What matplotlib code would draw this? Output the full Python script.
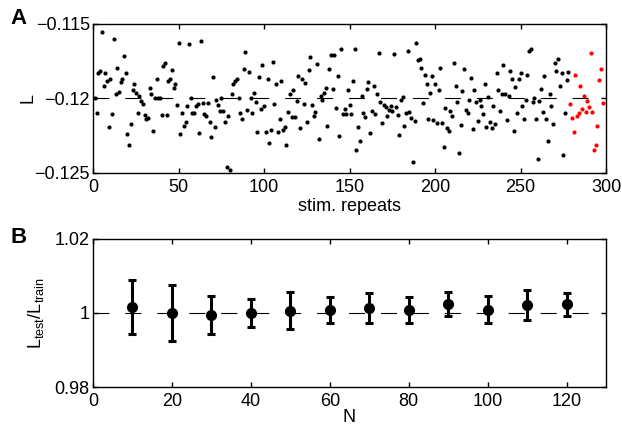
import matplotlib
matplotlib.use('Agg')
import matplotlib.pyplot as plt

plt.rcParams['font.family'] = ['Liberation Sans', 'DejaVu Sans']
plt.rcParams['mathtext.fontset'] = 'custom'
plt.rcParams['mathtext.rm'] = 'Liberation Sans'
plt.rcParams['lines.scale_dashes'] = False

# --- Panel A: L pro Stimulus-Wiederholung (schwarz = Training, rot = Test) ---
L_TRAIN = [
    -0.11995, -0.12100, -0.11828, -0.11817, -0.11555, -0.11917, -0.11828, -0.11884, -0.12193, -0.11866,
    -0.12107, -0.11600, -0.11969, -0.11794, -0.11958, -0.11891, -0.11872, -0.11716, -0.11832, -0.12237,
    -0.12315, -0.12170, -0.11940, -0.11906, -0.11962, -0.12096, -0.11984, -0.12018, -0.12040, -0.12114,
    -0.12141, -0.12132, -0.11928, -0.11973, -0.12215, -0.11995, -0.11866, -0.11995, -0.12000, -0.12112,
    -0.11783, -0.11760, -0.12112, -0.11884, -0.11872, -0.11810, -0.11928, -0.11906, -0.12047, -0.11626,
    -0.12235, -0.12100, -0.12186, -0.12159, -0.12052, -0.11631, -0.12000, -0.12096, -0.12100, -0.12052,
    -0.12040, -0.12230,
    -0.11611, -0.12029, -0.12107, -0.12119, -0.12029, -0.12157, -0.12260, -0.11854, -0.12193, -0.12007,
    -0.12045, -0.12081, -0.12000, -0.12081, -0.12157, -0.12461, -0.12119, -0.12479, -0.11973, -0.11906,
    -0.11884, -0.11868, -0.11995, -0.12098, -0.12141, -0.11805, -0.11691, -0.12074, -0.11823, -0.11995,
    -0.12098, -0.11964, -0.12025, -0.12228, -0.11857, -0.12069, -0.11772, -0.12052,
    -0.12224, -0.11872, -0.12297, -0.12210, -0.11758, -0.12036, -0.11904, -0.12226, -0.12136, -0.11884,
    -0.12213, -0.12193, -0.12309, -0.12089, -0.11973, -0.12121, -0.11944, -0.12123, -0.12018, -0.11848,
    -0.12197, -0.11872, -0.12040, -0.11893, -0.12159, -0.11812, -0.11720, -0.12047, -0.12116, -0.12089,
    -0.11767, -0.12275, -0.11980, -0.12009, -0.11962, -0.11928, -0.12186, -0.11801, -0.11711, -0.11935,
    -0.11709, -0.12062, -0.11846, -0.12253, -0.11667, -0.12103, -0.12069, -0.12103, -0.11946, -0.12045,
    -0.12103, -0.11884, -0.11667, -0.12349, -0.12190, -0.12286, -0.11984, -0.12098, -0.12123, -0.11933,
    -0.11891, -0.12233, -0.12085, -0.11917, -0.12103, -0.11973, -0.11693, -0.12022, -0.12166, -0.12045,
    -0.12058, -0.12119, -0.12078, -0.12052, -0.12081, -0.11703, -0.12058, -0.12112, -0.12246, -0.12013,
    -0.11987, -0.12186, -0.12098, -0.11678, -0.12092, -0.12132, -0.12423, -0.12154, -0.11629, -0.11745,
    -0.11738, -0.11794, -0.12029, -0.11839, -0.11901, -0.12136, -0.11962, -0.11850, -0.12143, -0.11901,
    -0.12163, -0.11944, -0.11794, -0.12163, -0.12324, -0.12062, -0.12197, -0.12215, -0.12085, -0.12119,
    -0.11765, -0.11917, -0.12025, -0.12369, -0.12181, -0.11951, -0.11805, -0.12074, -0.12098, -0.12013,
    -0.11861, -0.12208, -0.11946, -0.12022, -0.12154, -0.12013, -0.12052, -0.12107, -0.11906, -0.12193,
    -0.11991, -0.12159, -0.12201, -0.12052, -0.12174, -0.11828, -0.11946, -0.12085, -0.11973, -0.11772,
    -0.11973, -0.12146, -0.11984, -0.11817, -0.11872, -0.12215, -0.11924, -0.12096, -0.11866, -0.11828,
    -0.12052, -0.12136, -0.12013, -0.11844, -0.11678, -0.11671, -0.12022, -0.12000, -0.12136, -0.12403,
    -0.12018, -0.11933, -0.12094, -0.11850, -0.12141, -0.12282, -0.11969, -0.12052, -0.12174, -0.11765,
    -0.11817, -0.11736, -0.11915, -0.11830, -0.12381, -0.12098, -0.11875, -0.11819,
]
L_TEST = [
    -0.12036, -0.12130, -0.12224, -0.11844, -0.12119, -0.12096, -0.11917, -0.12069, -0.11984, -0.12089,
    -0.12018, -0.12058, -0.11698, -0.12089, -0.12349, -0.12313, -0.12186, -0.11879, -0.11799, -0.12029,
]
L_MITTEL = -0.12

A_XTICKS = [0, 50, 100, 150, 200, 250, 300]
A_YTICKS = [-0.125, -0.12, -0.115]
A_YTICKLABELS = ['\u22120.125', '\u22120.12', '\u22120.115']

# --- Panel B: L_test / L_train gegen N ---
N_WERTE = [10, 20, 30, 40, 50, 60, 70, 80, 90, 100, 110, 120]
RATIO_MITTEL = [1.0016, 1.0000, 0.9995, 1.0000, 1.0006, 1.0007,
                1.0013, 1.0008, 1.0024, 1.0009, 1.0021, 1.0023]
RATIO_FEHLER = [0.0074, 0.0075, 0.0052, 0.0039, 0.0050, 0.0035,
                0.0041, 0.0035, 0.0032, 0.0036, 0.0040, 0.0032]
RATIO_REF = 1.0

B_XTICKS = [0, 20, 40, 60, 80, 100, 120]
B_YTICKS = [0.98, 1.0, 1.02]
B_YTICKLABELS = ['0.98', '1', '1.02']

DASHES = (11.5, 11.5)


def achsen_stil(ax):
    for s in ax.spines.values():
        s.set_linewidth(1.0)
    ax.tick_params(direction='in', length=3.5, width=1.0, top=True, right=True,
                   labelsize=13)
    ax.tick_params(axis='x', pad=4.5)
    ax.tick_params(axis='y', pad=2.5)


fig = plt.figure(figsize=(6.22, 4.30), dpi=100)

# Panel A
ax_a = fig.add_axes([0.1500, 0.5977, 0.8243, 0.3465])
x_train = range(1, len(L_TRAIN) + 1)
x_test = range(len(L_TRAIN) + 1, len(L_TRAIN) + len(L_TEST) + 1)
ax_a.axhline(L_MITTEL, color='black', lw=0.8, dashes=DASHES, zorder=1)
ax_a.plot(x_train, L_TRAIN, 'o', color='black', ms=3, mew=0, zorder=2)
ax_a.plot(x_test, L_TEST, 'o', color='#ff0000', ms=3, mew=0, zorder=2)
ax_a.set_xlim(0, 300)
ax_a.set_ylim(-0.125, -0.115)
ax_a.set_xticks(A_XTICKS)
ax_a.set_yticks(A_YTICKS)
ax_a.set_yticklabels(A_YTICKLABELS)
achsen_stil(ax_a)
ax_a.set_xlabel('stim. repeats', fontsize=13)
ax_a.xaxis.set_label_coords(0.5, -0.165)
ax_a.set_ylabel('L', fontsize=13)
ax_a.yaxis.set_label_coords(-0.110, 0.5)

# Panel B
ax_b = fig.add_axes([0.1495, 0.1000, 0.8248, 0.3442])
ax_b.axhline(RATIO_REF, color='black', lw=0.8, dashes=DASHES, zorder=1)
ax_b.errorbar(N_WERTE, RATIO_MITTEL, yerr=RATIO_FEHLER, fmt='o', color='black',
              ms=7, mfc='black', mec='black', elinewidth=2.2, capsize=3,
              capthick=2.2, zorder=2)
ax_b.set_xlim(0, 130)
ax_b.set_ylim(0.98, 1.02)
ax_b.set_xticks(B_XTICKS)
ax_b.set_yticks(B_YTICKS)
ax_b.set_yticklabels(B_YTICKLABELS)
achsen_stil(ax_b)
ax_b.set_xlabel('N', fontsize=13)
ax_b.xaxis.set_label_coords(0.5, -0.15)
ax_b.set_ylabel(r'$\mathregular{L_{test}/L_{train}}$', fontsize=13)
ax_b.yaxis.set_label_coords(-0.092, 0.5)

# Panel-Buchstaben
fig.text(10 / 622, 1 - 18.5 / 430, 'A', fontsize=16, fontweight='bold', va='center', ha='left')
fig.text(10 / 622, 1 - 237.5 / 430, 'B', fontsize=16, fontweight='bold', va='center', ha='left')

fig.savefig('out.png', dpi=100)
